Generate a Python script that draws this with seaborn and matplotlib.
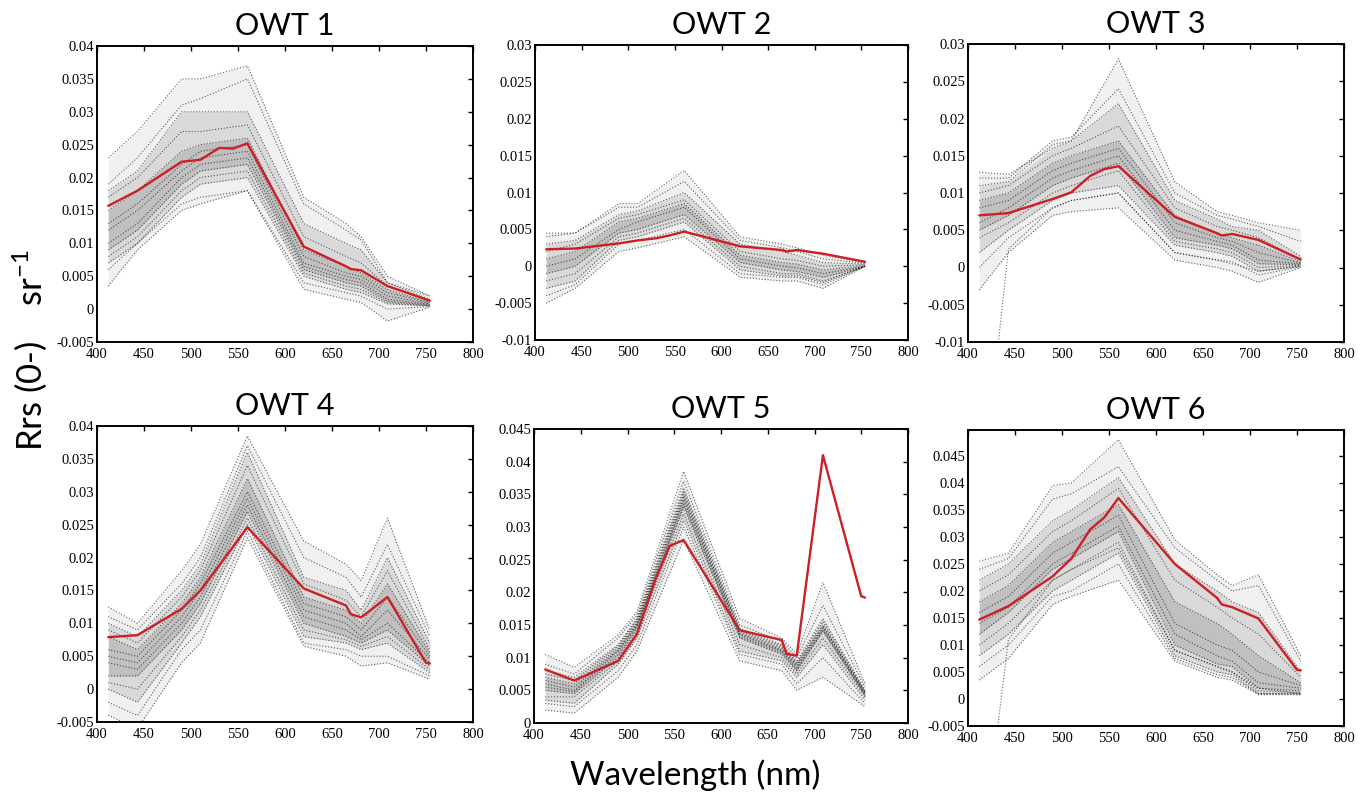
import numpy as np
import pandas as pd
import matplotlib
matplotlib.use("Agg")
import matplotlib.pyplot as plt
import seaborn as sns
from matplotlib.ticker import FuncFormatter

# ---------------- data ----------------
bands = [412, 443, 490, 510, 560, 620, 665, 681, 709, 754]
red_wl = [412, 443, 490, 510, 530, 545, 560, 620, 665, 670, 681, 709, 750, 754]
titles = ["OWT 1", "OWT 2", "OWT 3", "OWT 4", "OWT 5", "OWT 6"]
x_ticks = [400, 450, 500, 550, 600, 650, 700, 750, 800]

owt1_red = [0.0157, 0.0180, 0.0224, 0.0227, 0.0245, 0.0244, 0.0252, 0.0095, 0.0065, 0.0061, 0.0059, 0.0035, 0.0015, 0.0013]
owt2_red = [0.0023, 0.0024, 0.0031, 0.0035, 0.0038, 0.0042, 0.0047, 0.0027, 0.0022, 0.0020, 0.0022, 0.0017, 0.0007, 0.0006]
owt3_red = [0.0070, 0.0073, 0.0092, 0.0101, 0.0123, 0.0132, 0.0136, 0.0068, 0.0046, 0.0043, 0.0045, 0.0037, 0.0013, 0.0011]
owt4_red = [0.0079, 0.0082, 0.0122, 0.0150, 0.0188, 0.0217, 0.0246, 0.0153, 0.0127, 0.0114, 0.0109, 0.0140, 0.0040, 0.0039]
owt5_red = [0.0082, 0.0065, 0.0095, 0.0136, 0.0220, 0.0271, 0.0280, 0.0142, 0.0127, 0.0106, 0.0103, 0.0410, 0.0194, 0.0192]
owt6_red = [0.0147, 0.0172, 0.0227, 0.0260, 0.0314, 0.0336, 0.0372, 0.0250, 0.0187, 0.0175, 0.0170, 0.0149, 0.0054, 0.0053]

owt1_black = [
    [0.023, 0.027, 0.035, 0.035, 0.037, 0.017, 0.013, 0.011, 0.005, 0.002],
    [0.019, 0.023, 0.031, 0.032, 0.035, 0.016, 0.012, 0.0105, 0.004, 0.002],
    [0.018, 0.021, 0.030, 0.030, 0.030, 0.013, 0.010, 0.009, 0.004, 0.0015],
    [0.017, 0.020, 0.027, 0.027, 0.028, 0.011, 0.008, 0.007, 0.0035, 0.0012],
    [0.015, 0.018, 0.024, 0.025, 0.026, 0.009, 0.0065, 0.0055, 0.003, 0.001],
    [0.013, 0.016, 0.022, 0.024, 0.025, 0.008, 0.0055, 0.005, 0.0025, 0.001],
    [0.012, 0.015, 0.021, 0.023, 0.024, 0.007, 0.005, 0.0045, 0.002, 0.0008],
    [0.010, 0.013, 0.020, 0.022, 0.023, 0.0065, 0.0045, 0.004, 0.0015, 0.0007],
    [0.009, 0.012, 0.019, 0.021, 0.022, 0.006, 0.004, 0.0035, 0.0012, 0.0006],
    [0.008, 0.011, 0.018, 0.020, 0.021, 0.0055, 0.0035, 0.003, 0.001, 0.0005],
    [0.007, 0.010, 0.017, 0.019, 0.020, 0.005, 0.003, 0.0025, 0.0008, 0.0005],
    [0.006, 0.010, 0.016, 0.017, 0.018, 0.004, 0.0025, 0.002, 0.0, 0.0004],
    [0.0035, 0.009, 0.015, 0.016, 0.018, 0.003, 0.0015, 0.001, -0.0018, 0.0003],
]
owt2_black = [
    [0.0045, 0.0045, 0.0085, 0.0085, 0.013, 0.004, 0.003, 0.0025, 0.0015, 0.0005],
    [0.004, 0.0045, 0.008, 0.008, 0.0115, 0.0035, 0.0025, 0.002, 0.001, 0.0004],
    [0.003, 0.0035, 0.007, 0.0075, 0.010, 0.003, 0.002, 0.0015, 0.0005, 0.0003],
    [0.002, 0.003, 0.0065, 0.007, 0.009, 0.002, 0.001, 0.0008, 0.0, 0.0002],
    [0.001, 0.002, 0.006, 0.0065, 0.0085, 0.0015, 0.0005, 0.0003, -0.0005, 0.0001],
    [0.0, 0.001, 0.005, 0.006, 0.008, 0.001, 0.0, -0.0002, -0.001, 0.0],
    [-0.001, 0.0, 0.0045, 0.005, 0.007, 0.0005, -0.0005, -0.0007, -0.0015, 0.0],
    [-0.002, -0.001, 0.004, 0.0045, 0.0065, 0.0, -0.001, -0.001, -0.002, 0.0],
    [-0.003, -0.002, 0.0035, 0.004, 0.006, -0.0005, -0.0013, -0.0013, -0.0022, 0.0],
    [-0.004, -0.0025, 0.003, 0.0035, 0.005, -0.001, -0.0015, -0.0015, -0.0025, 0.0],
    [-0.005, -0.003, 0.002, 0.0025, 0.004, -0.0015, -0.002, -0.002, -0.003, 0.0],
]
owt3_black = [
    [0.0128, 0.0125, 0.016, 0.017, 0.028, 0.0115, 0.0075, 0.007, 0.006, 0.005],
    [0.012, 0.012, 0.017, 0.0175, 0.024, 0.010, 0.007, 0.0065, 0.0055, 0.0035],
    [0.011, 0.0115, 0.0165, 0.017, 0.022, 0.009, 0.0065, 0.0055, 0.005, 0.0015],
    [0.010, 0.011, 0.015, 0.016, 0.019, 0.008, 0.0055, 0.005, 0.004, 0.001],
    [0.009, 0.010, 0.014, 0.015, 0.017, 0.007, 0.0045, 0.004, 0.003, 0.0008],
    [0.008, 0.009, 0.013, 0.014, 0.016, 0.006, 0.004, 0.0035, 0.002, 0.0006],
    [0.006, 0.008, 0.012, 0.013, 0.015, 0.005, 0.0035, 0.003, 0.001, 0.0005],
    [0.005, 0.007, 0.011, 0.012, 0.014, 0.004, 0.003, 0.0025, 0.0005, 0.0004],
    [0.004, 0.006, 0.010, 0.011, 0.013, 0.0035, 0.0025, 0.002, 0.0, 0.0003],
    [0.002, 0.005, 0.009, 0.010, 0.011, 0.003, 0.002, 0.0015, -0.0005, 0.0002],
    [0.0, 0.004, 0.008, 0.009, 0.010, 0.002, 0.001, 0.0008, -0.001, 0.0001],
    [-0.003, 0.002, 0.007, 0.0075, 0.008, 0.001, 0.0, -0.0005, -0.002, 0.0],
]
owt3_outlier = [-0.034, 0.0025, 0.008, 0.009, 0.010, 0.002, 0.001, 0.0005, -0.0005, 0.0002]
owt4_black = [
    [0.0125, 0.010, 0.018, 0.022, 0.0385, 0.0225, 0.019, 0.0165, 0.026, 0.009],
    [0.011, 0.009, 0.016, 0.020, 0.037, 0.020, 0.017, 0.014, 0.022, 0.008],
    [0.010, 0.008, 0.015, 0.019, 0.036, 0.017, 0.015, 0.012, 0.020, 0.007],
    [0.009, 0.007, 0.014, 0.018, 0.034, 0.016, 0.0135, 0.011, 0.018, 0.006],
    [0.008, 0.006, 0.013, 0.017, 0.032, 0.014, 0.012, 0.010, 0.016, 0.0055],
    [0.006, 0.005, 0.012, 0.016, 0.030, 0.013, 0.011, 0.009, 0.014, 0.005],
    [0.005, 0.004, 0.011, 0.015, 0.029, 0.012, 0.010, 0.008, 0.012, 0.0045],
    [0.004, 0.003, 0.010, 0.014, 0.028, 0.011, 0.009, 0.0075, 0.010, 0.004],
    [0.002, 0.002, 0.009, 0.013, 0.027, 0.010, 0.008, 0.007, 0.009, 0.0035],
    [0.001, 0.0, 0.008, 0.012, 0.026, 0.009, 0.0075, 0.0065, 0.008, 0.003],
    [0.0, -0.002, 0.007, 0.011, 0.025, 0.008, 0.007, 0.006, 0.007, 0.0025],
    [-0.002, -0.004, 0.006, 0.009, 0.024, 0.007, 0.006, 0.005, 0.005, 0.002],
    [-0.004, -0.006, 0.004, 0.007, 0.023, 0.0065, 0.005, 0.0035, 0.004, 0.0015],
]
owt5_black = [
    [0.0105, 0.0085, 0.0135, 0.017, 0.0385, 0.016, 0.013, 0.0105, 0.0215, 0.006],
    [0.009, 0.0075, 0.013, 0.0165, 0.037, 0.015, 0.0125, 0.010, 0.018, 0.0055],
    [0.008, 0.007, 0.012, 0.016, 0.036, 0.0145, 0.012, 0.0095, 0.016, 0.005],
    [0.0075, 0.0065, 0.0118, 0.0158, 0.0355, 0.0142, 0.0118, 0.0092, 0.0155, 0.0048],
    [0.007, 0.006, 0.0115, 0.0155, 0.035, 0.014, 0.0115, 0.009, 0.015, 0.0047],
    [0.0065, 0.0055, 0.0112, 0.0152, 0.0345, 0.0137, 0.0112, 0.0088, 0.0148, 0.0046],
    [0.006, 0.005, 0.011, 0.015, 0.034, 0.0135, 0.011, 0.0085, 0.0145, 0.0045],
    [0.0055, 0.0048, 0.0105, 0.0148, 0.0335, 0.0132, 0.0108, 0.0082, 0.0142, 0.0043],
    [0.005, 0.0045, 0.010, 0.0145, 0.033, 0.013, 0.0105, 0.008, 0.014, 0.0042],
    [0.004, 0.004, 0.0095, 0.014, 0.032, 0.012, 0.010, 0.0075, 0.013, 0.004],
    [0.0035, 0.003, 0.009, 0.013, 0.031, 0.011, 0.0095, 0.007, 0.012, 0.0035],
    [0.003, 0.0025, 0.008, 0.012, 0.030, 0.0105, 0.009, 0.006, 0.010, 0.003],
    [0.002, 0.0015, 0.007, 0.011, 0.028, 0.0095, 0.008, 0.005, 0.007, 0.0025],
]
owt6_black = [
    [0.0255, 0.027, 0.0395, 0.040, 0.048, 0.0295, 0.023, 0.021, 0.023, 0.008],
    [0.024, 0.026, 0.037, 0.038, 0.043, 0.028, 0.022, 0.020, 0.021, 0.007],
    [0.022, 0.025, 0.033, 0.035, 0.041, 0.025, 0.020, 0.018, 0.016, 0.005],
    [0.020, 0.023, 0.031, 0.033, 0.039, 0.022, 0.017, 0.015, 0.012, 0.004],
    [0.018, 0.021, 0.029, 0.031, 0.036, 0.018, 0.014, 0.012, 0.008, 0.003],
    [0.016, 0.019, 0.027, 0.029, 0.034, 0.014, 0.010, 0.009, 0.005, 0.0025],
    [0.014, 0.017, 0.025, 0.027, 0.032, 0.012, 0.008, 0.007, 0.003, 0.002],
    [0.012, 0.016, 0.024, 0.026, 0.031, 0.010, 0.0065, 0.006, 0.002, 0.0015],
    [0.010, 0.014, 0.022, 0.024, 0.029, 0.009, 0.006, 0.005, 0.0015, 0.0012],
    [0.008, 0.012, 0.020, 0.022, 0.027, 0.008, 0.005, 0.0045, 0.001, 0.001],
    [0.006, 0.010, 0.019, 0.020, 0.025, 0.0075, 0.0045, 0.004, 0.001, 0.0009],
    [0.0035, 0.0075, 0.0175, 0.019, 0.022, 0.007, 0.004, 0.0035, 0.0008, 0.0008],
]
owt6_outlier = [-0.033, 0.011, 0.022, 0.024, 0.028, 0.009, 0.006, 0.005, 0.002, 0.001]

y_limits = [(-0.005, 0.04), (-0.01, 0.03), (-0.01, 0.03), (-0.005, 0.04), (0.0, 0.045), (-0.005, 0.0498)]
y_tick_top = [0.04, 0.03, 0.03, 0.04, 0.045, 0.045]

panels = [
    (owt1_black, None, owt1_red),
    (owt2_black, None, owt2_red),
    (owt3_black, owt3_outlier, owt3_red),
    (owt4_black, None, owt4_red),
    (owt5_black, None, owt5_red),
    (owt6_black, owt6_outlier, owt6_red),
]

# ---------------- layout ----------------
W, H = 1370, 798
boxes_px = [  # left, top, right, bottom in pixels
    (97, 46, 473, 342), (535, 45, 908, 340), (968, 44, 1344, 342),
    (97, 426, 473, 722), (534, 429, 908, 723), (968, 430, 1344, 726),
]

sns.set_style("white")
plt.rcParams.update({
    "xtick.direction": "in", "ytick.direction": "in",
    "xtick.major.size": 3.5, "ytick.major.size": 3.5,
    "xtick.major.width": 1.0, "ytick.major.width": 1.0,
    "axes.linewidth": 1.4, "axes.edgecolor": "black",
    "text.color": "black", "xtick.color": "black", "ytick.color": "black",
    "mathtext.default": "regular",
})

fig = plt.figure(figsize=(W / 100, H / 100), dpi=100)
serif = ["Liberation Serif", "DejaVu Serif"]
sans = ["Lato", "Open Sans", "DejaVu Sans"]

fmt = FuncFormatter(lambda v, p: "0" if abs(v) < 1e-12 else ("%g" % round(v, 4)))

for i, (box, (black, outlier, red), title) in enumerate(zip(boxes_px, panels, titles)):
    l, t, r, b = box
    ax = fig.add_axes([l / W, 1 - b / H, (r - l) / W, (b - t) / H])
    arr = np.array(black)
    srt = np.sort(arr, axis=0)
    # cloud envelope made from the read spectra
    ax.fill_between(bands, srt[0], srt[-1], color="0.6", alpha=0.14, lw=0)
    ax.fill_between(bands, srt[2], srt[-3], color="0.35", alpha=0.15, lw=0)
    ax.fill_between(bands, srt[4], srt[-5], color="0.2", alpha=0.15, lw=0)
    rows = []
    for k, spec in enumerate(black):
        for w, v in zip(bands, spec):
            rows.append({"wl": w, "rrs": v, "id": k})
    if outlier is not None:
        for w, v in zip(bands, outlier):
            rows.append({"wl": w, "rrs": v, "id": len(black)})
    df = pd.DataFrame(rows)
    sns.lineplot(data=df, x="wl", y="rrs", units="id", estimator=None, color="black",
                 linestyle=":", lw=0.8, alpha=0.6, ax=ax, legend=False)
    dfr = pd.DataFrame({"wl": red_wl, "rrs": red})
    sns.lineplot(data=dfr, x="wl", y="rrs", color="#cc1f26", lw=1.7, ax=ax,
                 estimator=None, sort=False, legend=False)

    ax.set_xlim(400, 800)
    ax.set_ylim(*y_limits[i])
    ax.set_xticks(x_ticks)
    lo = y_limits[i][0]
    ticks = np.round(np.arange(lo, y_tick_top[i] + 1e-9, 0.005), 4)
    ax.set_yticks(ticks)
    ax.yaxis.set_major_formatter(fmt)
    ax.tick_params(top=True, right=True, labelsize=10.5)
    ax.tick_params(axis="x", pad=4)
    ax.tick_params(axis="y", pad=2)
    for lab in ax.get_xticklabels() + ax.get_yticklabels():
        lab.set_family(serif)
    ax.set_xlabel("")
    ax.set_ylabel("")
    ax.set_title(title, fontsize=22, family=sans, pad=8, color="black")
    for s in ax.spines.values():
        s.set_visible(True)

fig.text(30 / W, 1 - 350 / H, "Rrs (0-)    sr$^{-1}$", rotation=90, ha="center", va="center",
         fontsize=25, family=sans, color="black")
fig.text(695 / W, 1 - 775 / H, "Wavelength (nm)", ha="center", va="center",
         fontsize=24, family=sans, color="black")

fig.savefig("out.png", dpi=100)
